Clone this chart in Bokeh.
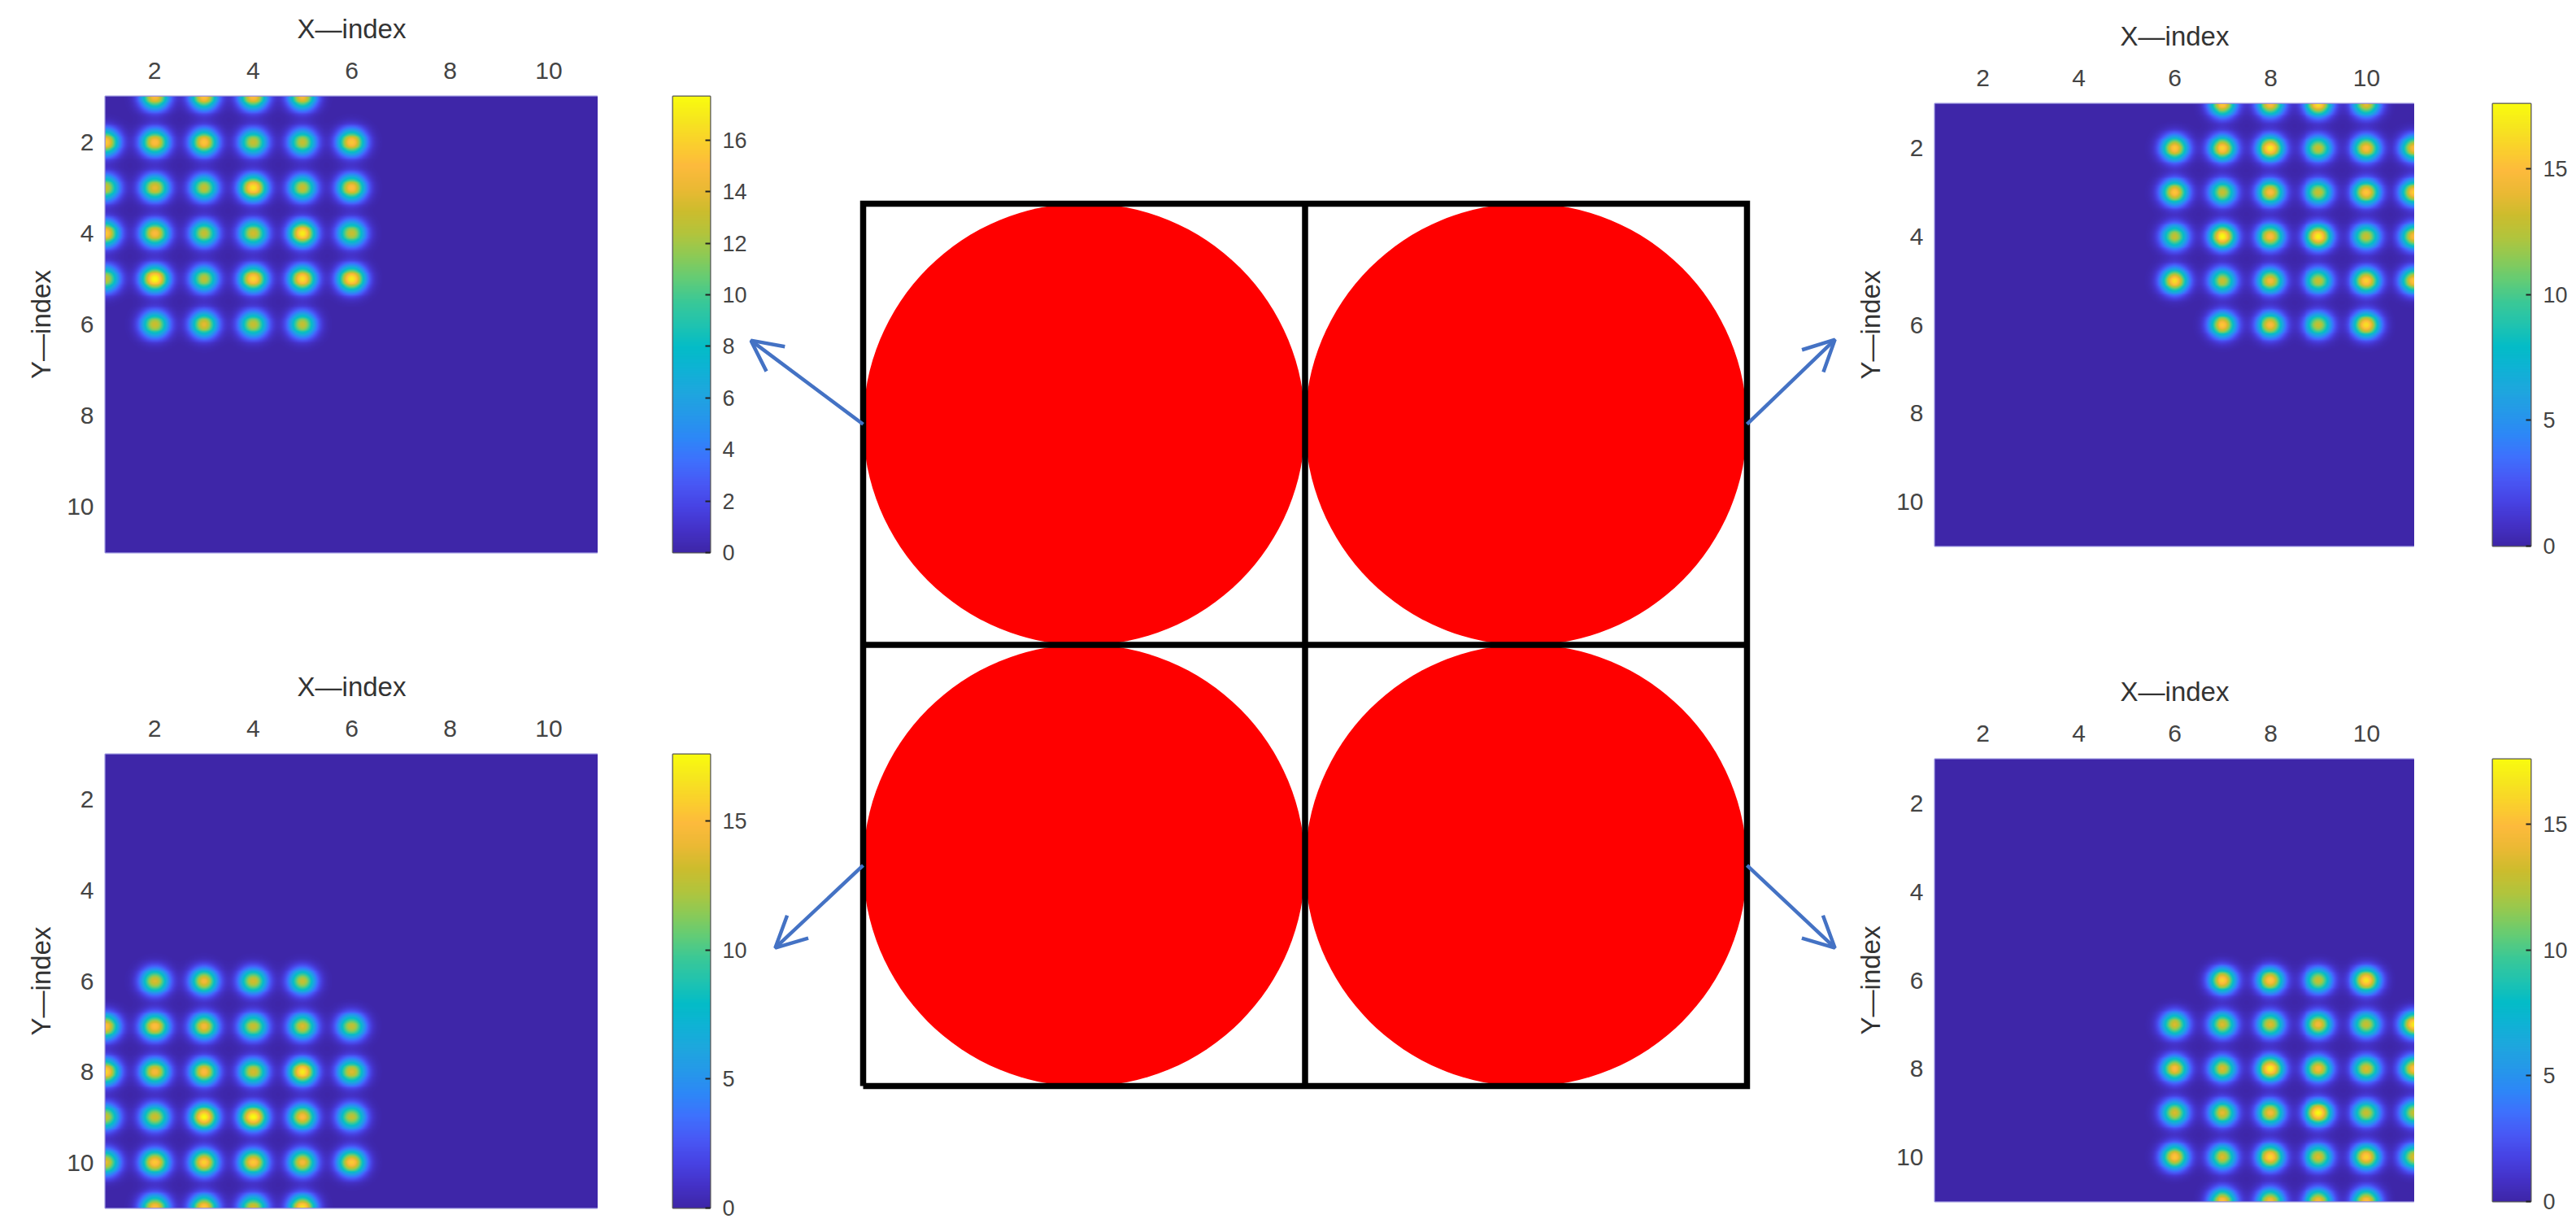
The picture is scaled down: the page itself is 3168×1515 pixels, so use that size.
import numpy as np
from bokeh.plotting import figure
from bokeh.layouts import row, column
from bokeh.models import (Range1d, LinearColorMapper, FixedTicker, Arrow,
                          OpenHead, ColumnDataSource)
from bokeh.embed import file_html
from bokeh.resources import INLINE

# ---------------- data ----------------
AXIS_LIMITS = (1, 11)
AXIS_TICKS = [2, 4, 6, 8, 10]

# top-left panel: spot rows (y), spot columns (x) per row, peak value per spot
TL_ROWS = [1, 2, 3, 4, 5, 6]
TL_COLS = [[2, 3, 4, 5], [1, 2, 3, 4, 5, 6], [1, 2, 3, 4, 5, 6],
           [1, 2, 3, 4, 5, 6], [1, 2, 3, 4, 5, 6], [2, 3, 4, 5]]
TL_PEAKS = [[15.0, 15.5, 15.2, 14.8],
            [15.8, 15.2, 15.6, 13.0, 13.0, 15.6],
            [13.2, 14.0, 13.0, 16.8, 13.2, 15.2],
            [15.8, 15.0, 13.0, 13.4, 17.2, 13.0],
            [13.0, 17.7, 12.8, 16.2, 16.6, 17.0],
            [13.2, 14.0, 13.0, 13.0]]

BL_ROWS = [6, 7, 8, 9, 10, 11]
BL_COLS = [[2, 3, 4, 5], [1, 2, 3, 4, 5, 6], [1, 2, 3, 4, 5, 6],
           [1, 2, 3, 4, 5, 6], [1, 2, 3, 4, 5, 6], [2, 3, 4, 5]]
BL_PEAKS = [[13.6, 14.6, 13.4, 13.0],
            [15.2, 15.2, 14.6, 13.0, 13.6, 12.8],
            [16.2, 14.6, 15.0, 13.4, 17.0, 13.6],
            [13.0, 13.2, 17.6, 17.6, 15.0, 12.8],
            [14.0, 15.6, 16.0, 15.6, 14.6, 15.6],
            [15.0, 15.6, 13.4, 16.6]]

TR_ROWS = [1, 2, 3, 4, 5, 6]
TR_COLS = [[7, 8, 9, 10], [6, 7, 8, 9, 10, 11], [6, 7, 8, 9, 10, 11],
           [6, 7, 8, 9, 10, 11], [6, 7, 8, 9, 10, 11], [7, 8, 9, 10]]
TR_PEAKS = [[15.6, 15.0, 16.6, 14.0],
            [15.6, 16.0, 17.0, 13.0, 15.0, 15.0],
            [15.6, 13.0, 15.0, 13.0, 15.6, 16.0],
            [13.0, 17.6, 15.0, 17.2, 13.0, 15.0],
            [16.6, 13.0, 14.6, 13.0, 16.0, 15.6],
            [15.6, 15.0, 13.0, 16.6]]

BR_ROWS = [6, 7, 8, 9, 10, 11]
BR_COLS = [[7, 8, 9, 10], [6, 7, 8, 9, 10, 11], [6, 7, 8, 9, 10, 11],
           [6, 7, 8, 9, 10, 11], [6, 7, 8, 9, 10, 11], [7, 8, 9, 10]]
BR_PEAKS = [[16.0, 15.6, 13.0, 16.8],
            [13.6, 13.6, 13.6, 14.6, 13.0, 17.0],
            [15.0, 13.6, 17.2, 14.6, 13.6, 15.2],
            [13.6, 14.0, 14.6, 17.6, 13.0, 13.0],
            [15.6, 13.6, 16.2, 13.6, 16.0, 13.6],
            [15.2, 14.6, 14.6, 15.2]]

SPOT_SIGMA = 0.19
CB_TICKS_TL = [0, 2, 4, 6, 8, 10, 12, 14, 16]
CB_TICKS = [0, 5, 10, 15]

# centre schematic: 2x2 cells with one disc each
CELL_EDGES = [0, 1, 2]
DISC_X = [0.5, 1.5, 0.5, 1.5]
DISC_Y = [1.5, 1.5, 0.5, 0.5]
DISC_R = 0.5
ARROW_X0 = [0.0, 2.0, 0.0, 2.0]
ARROW_Y0 = [1.5, 1.5, 0.5, 0.5]
ARROW_X1 = [-0.254, 2.199, -0.199, 2.199]
ARROW_Y1 = [1.690, 1.692, 0.313, 0.313]

# ---------------- style ----------------
FONT = "Liberation Sans"
ANCHORS = [
    (0.00, 62, 38, 168), (0.05, 68, 50, 200), (0.10, 71, 67, 228),
    (0.15, 72, 88, 245), (0.20, 62, 112, 253), (0.25, 45, 135, 247),
    (0.30, 37, 152, 233), (0.35, 30, 166, 222), (0.40, 15, 178, 213),
    (0.45, 3, 188, 199), (0.50, 32, 195, 175), (0.55, 58, 200, 151),
    (0.60, 98, 204, 118), (0.65, 140, 202, 86), (0.70, 178, 196, 60),
    (0.75, 205, 188, 45), (0.80, 235, 185, 52), (0.85, 253, 186, 60),
    (0.90, 250, 208, 44), (0.95, 246, 230, 30), (1.00, 249, 251, 14)]
_t = np.array([a[0] for a in ANCHORS])
_tt = np.linspace(0, 1, 256)
_r = np.interp(_tt, _t, [a[1] for a in ANCHORS])
_g = np.interp(_tt, _t, [a[2] for a in ANCHORS])
_b = np.interp(_tt, _t, [a[3] for a in ANCHORS])
PARULA = ["#%02x%02x%02x" % (int(round(r)), int(round(g)), int(round(b)))
          for r, g, b in zip(_r, _g, _b)]


def field(rows, cols, peaks):
    g = np.linspace(AXIS_LIMITS[0], AXIS_LIMITS[1], 601)
    X, Y = np.meshgrid(g, g)
    Z = np.zeros_like(X)
    for yv, cs, ps in zip(rows, cols, peaks):
        for xv, a in zip(cs, ps):
            Z += a * np.exp(-((X - xv) ** 2 + (Y - yv) ** 2) / (2 * SPOT_SIGMA ** 2))
    return Z


def heat_fig(rows, cols, peaks, mapper, width, height, mbl, mbt, mbb):
    p = figure(width=width, height=height,
               x_range=Range1d(*AXIS_LIMITS), y_range=Range1d(AXIS_LIMITS[1], AXIS_LIMITS[0]),
               x_axis_location="above", output_backend="svg", toolbar_location=None,
               min_border_left=mbl, min_border_right=0, min_border_top=mbt,
               min_border_bottom=mbb)
    Z = field(rows, cols, peaks)
    p.image(image=[Z], x=AXIS_LIMITS[0], y=AXIS_LIMITS[0],
            dw=AXIS_LIMITS[1] - AXIS_LIMITS[0], dh=AXIS_LIMITS[1] - AXIS_LIMITS[0],
            color_mapper=mapper)
    p.grid.visible = False
    p.outline_line_color = "#948ddc"
    p.outline_line_width = 2
    for ax, lab in ((p.xaxis, "X\u2014index"), (p.yaxis, "Y\u2014index")):
        ax.ticker = FixedTicker(ticks=AXIS_TICKS)
        ax.axis_label = lab
        ax.axis_label_text_font = FONT
        ax.axis_label_text_font_size = "33px"
        ax.axis_label_text_font_style = "normal"
        ax.axis_label_text_color = "#333333"
        ax.major_label_text_font = FONT
        ax.major_label_text_font_size = "30px"
        ax.major_label_text_color = "#444444"
        ax.major_tick_line_color = None
        ax.minor_tick_line_color = None
        ax.major_tick_in = 0
        ax.major_tick_out = 0
        ax.minor_tick_in = 0
        ax.minor_tick_out = 0
        ax.axis_line_color = None
    p.xaxis.major_label_standoff = 22
    p.xaxis.axis_label_standoff = 20
    p.yaxis.major_label_standoff = 14
    p.yaxis.axis_label_standoff = 10
    return p


def cbar_fig(mapper, high, ticks, width, height, mbl, mbr, mbt, mbb):
    p = figure(width=width, height=height, x_range=Range1d(0, 1), y_range=Range1d(0, high),
               x_axis_location=None, y_axis_location="right",
               output_backend="svg", toolbar_location=None,
               min_border_left=mbl, min_border_right=mbr, min_border_top=mbt,
               min_border_bottom=mbb)
    grad = np.linspace(0, high, 512).reshape(-1, 1)
    p.image(image=[grad], x=0, y=0, dw=1, dh=high, color_mapper=mapper)
    p.grid.visible = False
    p.outline_line_color = "#555555"
    p.outline_line_width = 2
    ax = p.yaxis
    ax.ticker = FixedTicker(ticks=ticks)
    ax.major_label_text_font = FONT
    ax.major_label_text_font_size = "27px"
    ax.major_label_text_color = "#444444"
    ax.major_tick_in = 6
    ax.major_tick_out = 0
    ax.major_tick_line_color = "#222222"
    ax.major_tick_line_width = 2
    ax.minor_tick_line_color = None
    ax.axis_line_color = None
    ax.major_label_standoff = 15
    return p


panels = {}
for key, rows, cols, peaks in (("TL", TL_ROWS, TL_COLS, TL_PEAKS),
                               ("BL", BL_ROWS, BL_COLS, BL_PEAKS),
                               ("TR", TR_ROWS, TR_COLS, TR_PEAKS),
                               ("BR", BR_ROWS, BR_COLS, BR_PEAKS)):
    high = max(max(r) for r in peaks)
    mapper = LinearColorMapper(palette=PARULA, low=0, high=high)
    panels[key] = (rows, cols, peaks, mapper, high)

r, c, pk, m, h = panels["TL"]
tl = heat_fig(r, c, pk, m, 735, 798, 129, 118, 119)
tlcb = cbar_fig(m, h, CB_TICKS_TL, 186, 798, 92, 46, 118, 119)
r, c, pk, m, h = panels["BL"]
bl = heat_fig(r, c, pk, m, 735, 707, 129, 129, 20)
blcb = cbar_fig(m, h, CB_TICKS, 186, 707, 92, 46, 129, 20)
r, c, pk, m, h = panels["TR"]
tr = heat_fig(r, c, pk, m, 697, 798, 107, 127, 127)
trcb = cbar_fig(m, h, CB_TICKS, 191, 798, 96, 48, 127, 127)
r, c, pk, m, h = panels["BR"]
br = heat_fig(r, c, pk, m, 697, 707, 107, 135, 28)
brcb = cbar_fig(m, h, CB_TICKS, 191, 707, 96, 48, 135, 28)

# centre schematic
center = figure(width=1351, height=1505,
                x_range=Range1d(-0.2576, 2.2282), y_range=Range1d(-0.3134, 2.4608),
                x_axis_location=None, y_axis_location=None,
                output_backend="svg", toolbar_location=None, min_border=0)
center.grid.visible = False
center.outline_line_color = None
center.circle(x=DISC_X, y=DISC_Y, radius=DISC_R, fill_color="#ff0000", line_color=None)
lo, mid, hi = CELL_EDGES
center.line(x=[lo, hi, hi, lo, lo], y=[lo, lo, hi, hi, lo], line_color="black",
            line_width=7.5, line_join="miter")
center.multi_line(xs=[[mid, mid], [lo, hi]], ys=[[lo, hi], [mid, mid]],
                  line_color="black", line_width=7.5)
asrc = ColumnDataSource(dict(x0=ARROW_X0, y0=ARROW_Y0, x1=ARROW_X1, y1=ARROW_Y1))
center.add_layout(Arrow(end=OpenHead(size=38, line_color="#4472c4", line_width=4.5),
                        x_start="x0", y_start="y0", x_end="x1", y_end="y1",
                        source=asrc, line_color="#4472c4", line_width=4.5))

layout = row(column(tl, bl), column(tlcb, blcb), center, column(tr, br), column(trcb, brcb))
open("out.html", "w").write(file_html(layout, INLINE))
